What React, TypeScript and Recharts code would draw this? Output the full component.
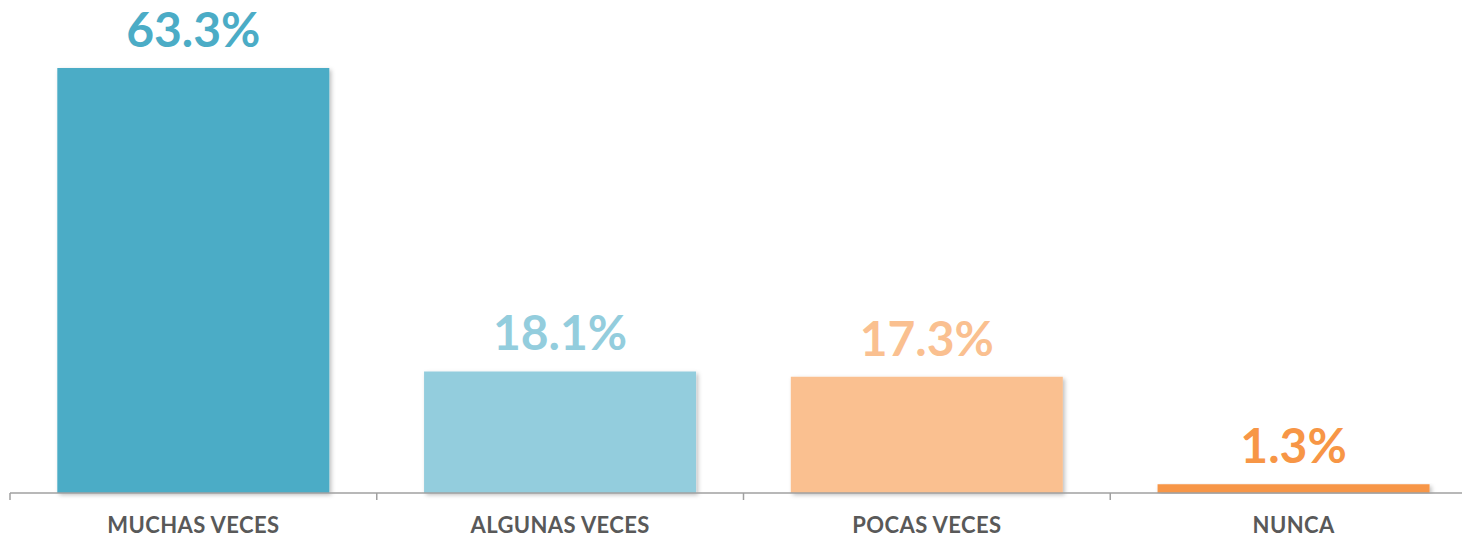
import React from "react";
import { BarChart, Bar, XAxis, YAxis, Cell, LabelList } from "recharts";

const categories = ["MUCHAS VECES", "ALGUNAS VECES", "POCAS VECES", "NUNCA"];
const values = [63.3, 18.1, 17.3, 1.3];
const colors = ["#4BACC6", "#93CDDD", "#FAC090", "#F79646"];

const data = categories.map((name, i) => ({ name, value: values[i] }));

const font = "Lato, 'Open Sans', sans-serif";
const axisColor = "#a0a0a0";

// label in the band centre, plus tick marks on the band edges (payload.offset = half band)
function CategoryTick(props: any) {
  const { x, y, payload, index, visibleTicksCount } = props;
  const half = payload.offset || 0;
  const last = index === (visibleTicksCount ?? categories.length) - 1;
  return (
    <g>
      <line x1={x - half} x2={x - half} y1={y} y2={y + 7} stroke={axisColor} strokeWidth={1.5} />
      {last && <line x1={x + half} x2={x + half} y1={y} y2={y + 7} stroke={axisColor} strokeWidth={1.5} />}
      <text
        x={x}
        y={y + 40}
        textAnchor="middle"
        fill="#595959"
        fontFamily={font}
        fontWeight={700}
        fontSize={22}
        letterSpacing={0.4}
      >
        {payload.value}
      </text>
    </g>
  );
}

function ValueLabel(props: any) {
  const { x, y, width, index, value } = props;
  return (
    <text
      x={x + width / 2}
      y={y - 21}
      textAnchor="middle"
      fill={colors[index]}
      fontFamily={font}
      fontWeight={700}
      fontSize={48}
    >
      {Number(value).toFixed(1)}%
    </text>
  );
}

export default function App() {
  return (
    <div style={{ width: 1462, height: 532, overflow: "hidden" }}>
      <BarChart
        width={1480}
        height={532}
        data={data}
        margin={{ top: 15, right: 11, left: 2, bottom: 0 }}
        barCategoryGap="12.9%"
      >
        <defs>
          <filter id="barShadow" x="-5%" y="-5%" width="115%" height="115%">
            <feDropShadow dx="2" dy="2" stdDeviation="2" floodColor="#000" floodOpacity="0.25" />
          </filter>
        </defs>
        <XAxis
          dataKey="name"
          height={47}
          axisLine={{ stroke: axisColor, strokeWidth: 1.5 }}
          tickLine={false}
          tickSize={0}
          tickMargin={0}
          interval={0}
          tick={<CategoryTick />}
        />
        <YAxis hide domain={[0, 70]} />
        <Bar dataKey="value" isAnimationActive={false}>
          {data.map((d, i) => (
            <Cell key={d.name} fill={colors[i]} filter="url(#barShadow)" />
          ))}
          <LabelList dataKey="value" content={<ValueLabel />} />
        </Bar>
      </BarChart>
    </div>
  );
}
